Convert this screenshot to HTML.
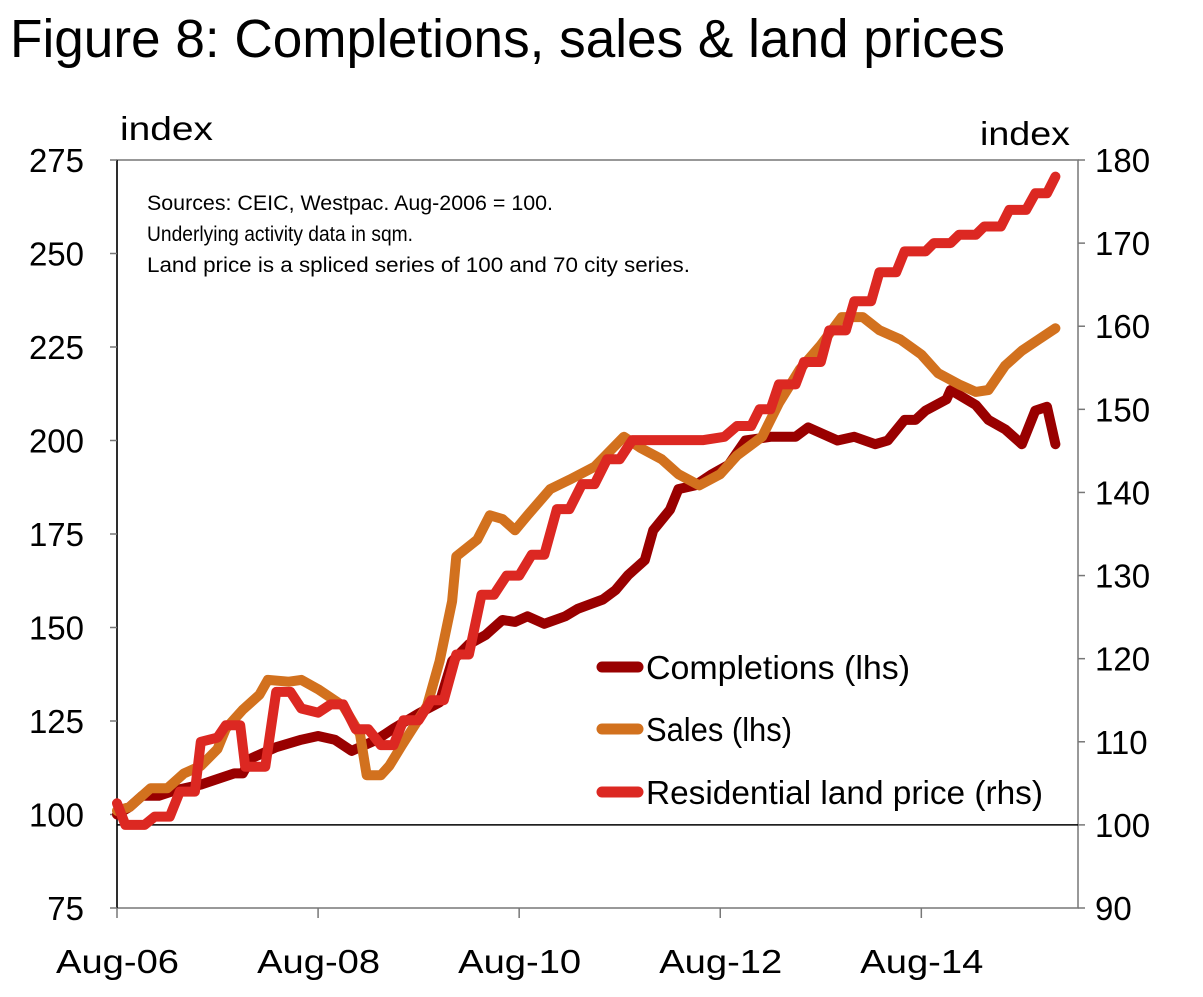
<!DOCTYPE html>
<html><head><meta charset="utf-8"><style>
body{margin:0;background:#fff;}
svg text{font-family:"Liberation Sans",sans-serif;}
</style></head><body>
<svg id="chart" width="1203" height="992" xmlns="http://www.w3.org/2000/svg">
<text x="10" y="57" font-size="54" textLength="995" lengthAdjust="spacingAndGlyphs" fill="#000">Figure 8: Completions, sales &amp; land prices</text>
<text x="120" y="140" font-size="33" textLength="93" lengthAdjust="spacingAndGlyphs">index</text>
<text x="980" y="145" font-size="33" textLength="90" lengthAdjust="spacingAndGlyphs">index</text>
<rect x="117" y="160" width="961" height="748" fill="none" stroke="#777" stroke-width="1.5"/>
<line x1="117" y1="160" x2="117" y2="908" stroke="#000" stroke-width="1.5"/>
<g id="axes"></g>
<g id="series"></g>
<text font-size="21" fill="#000"><tspan x="147" y="210" textLength="406" lengthAdjust="spacingAndGlyphs">Sources: CEIC, Westpac. Aug-2006 = 100.</tspan><tspan x="147" y="241" textLength="266" lengthAdjust="spacingAndGlyphs">Underlying activity data in sqm.</tspan><tspan x="147" y="272" textLength="543" lengthAdjust="spacingAndGlyphs">Land price is a spliced series of 100 and 70 city series.</tspan></text>
<g>
<line x1="602" y1="667" x2="638" y2="667" stroke="#990000" stroke-width="11" stroke-linecap="round"/>
<text x="646" y="679" font-size="33" textLength="264" lengthAdjust="spacingAndGlyphs">Completions (lhs)</text>
<line x1="602" y1="729" x2="638" y2="729" stroke="#d2711e" stroke-width="11" stroke-linecap="round"/>
<text x="646" y="741" font-size="33" textLength="146" lengthAdjust="spacingAndGlyphs">Sales (lhs)</text>
<line x1="602" y1="792" x2="638" y2="792" stroke="#dc2822" stroke-width="11" stroke-linecap="round"/>
<text x="646" y="804" font-size="33" textLength="397" lengthAdjust="spacingAndGlyphs">Residential land price (rhs)</text>
</g>
</svg>
<script>
const xTickLabels=["Aug-06","Aug-08","Aug-10","Aug-12","Aug-14"];
const xTickMonths=[0,24,48,72,96];
const lhsTicks=[75,100,125,150,175,200,225,250,275];
const rhsTicks=[90,100,110,120,130,140,150,160,170,180];
const complMonths=[0,1.5,3,5,7,10,12,14,15,16,19,22,24,26,28,31,33,36,38.5,40,42,44,46,47.5,49,51,53.5,55,58,59.5,61,63,64,66,67,69,71,73,75,78,81,82.5,84.5,86,88,90.5,92,94,95.3,96.5,99,99.5,102.5,104,106,108,109.6,111,112];
const complValues=[100,102,105,105,106.5,108,109.5,111,111,115,118,120,121,120,117,120,123,127,130,141,145.5,148,152,151.5,153,151,153,155,157.5,160,164,168,176,181.5,187,188,191,193.5,200,201,201,203.5,201.5,200,201,199,200,205.5,205.5,208,211,213.5,209.5,205.5,203,199,208,209,199];
const salesMonths=[0,1.5,4,6,8,10,12,13,15,17,18,20.5,22,24,27,29,29.8,31.5,32.5,34,37,38.5,40,40.5,43,44.5,46,47.5,49,51.7,54,57,60.5,62.5,65,67,69.5,72,74,77,79,81.5,84,86.5,89,91,93.5,96,98,100.5,102.5,104,106,108,110,112];
const salesValues=[101,102,107,107,111,113,117.5,123,128,132,136,135.5,136,133.5,129,121.5,110.5,110.5,113,118.5,129,141,157,169,173.5,180,179,176,180,187,189.5,193,201,198,195,191,188,191,196,201,210,219,225.5,233,233,229.5,227,223,218,215,213,213.5,220,224,227,230];
const landMonths=[0,1,3.3,4.5,6.3,7.5,9.3,10,12,13,14.7,15.3,17.7,19,20.7,22,24,25.5,27,28.5,30,31.5,33,34.2,36,37.5,39,40.5,42,43.5,45,46.5,48,49.5,51,52.5,54,55.5,57,58.5,60,61.5,70,72.5,74,75.7,76.7,78,79,81,82,84,85,87,88,90,91,93,94,96.5,97.5,99.5,100.5,102.5,103.5,105.5,106.5,108.5,109.6,111,112];
const landValues=[102.6,100,100,101,101,104,104,110,110.5,112,112,107,107,116,116,114,113.5,114.5,114.5,111.5,111.5,109.6,109.6,112.6,112.6,115,115,120.5,120.5,127.7,127.7,130,130,132.5,132.5,138,138,141,141,144,144,146.3,146.3,146.7,148,148,150,150,153,153,155.7,155.7,159.5,159.5,163,163,166.5,166.5,169,169,170,170,171,171,172,172,174,174,176,176,178];

const X=m=>117+m*(961/114.7);
const YL=v=>908-(v-75)*3.74;
const YR=v=>908-(v-90)*8.311;
const NS="http://www.w3.org/2000/svg";
const axes=document.getElementById('axes'),ser=document.getElementById('series');
function mk(tag,attrs,parent,txt){const e=document.createElementNS(NS,tag);for(const k in attrs)e.setAttribute(k,attrs[k]);if(txt!==undefined)e.textContent=txt;parent.appendChild(e);return e;}
lhsTicks.forEach(v=>{
 const t=mk('line',{x1:110,x2:117,y1:YL(v),y2:YL(v),stroke:'#777','stroke-width':1.5},axes);
 
 
 const l=mk('text',{x:84,y:YL(v)+12,'font-size':33,'text-anchor':'end'},axes,v);
 
 
});
rhsTicks.forEach(v=>{
 const t=mk('line',{x1:1078,x2:1085,y1:YR(v),y2:YR(v),stroke:'#777','stroke-width':1.5},axes);
 
 
 const l=mk('text',{x:1095,y:YR(v)+12,'font-size':33},axes,v);
 
 
});
xTickMonths.forEach((m,i)=>{
 const t=mk('line',{x1:X(m),x2:X(m),y1:908,y2:918,stroke:'#777','stroke-width':1.5},axes);
 
 
 const l=mk('text',{x:X(m)-61,y:973,'font-size':33,textLength:123,lengthAdjust:'spacingAndGlyphs'},axes,xTickLabels[i]);
 
 
});
const base=mk('line',{x1:117,x2:1078,y1:YR(100),y2:YR(100),stroke:'#000','stroke-width':1.5},axes);


function line(ms,vs,yf,col,name){
 const d=ms.map((m,i)=>(i?'L':'M')+X(m).toFixed(1)+','+yf(vs[i]).toFixed(1)).join('');
 const p=mk('path',{d:d,fill:'none',stroke:col,'stroke-width':10,'stroke-linejoin':'round','stroke-linecap':'round'},ser);
 
 
}
line(complMonths,complValues,YL,'#990000','completions-line');
line(salesMonths,salesValues,YL,'#d2711e','sales-line');
line(landMonths,landValues,YR,'#dc2822','land-price-line');
</script>
</body></html>
